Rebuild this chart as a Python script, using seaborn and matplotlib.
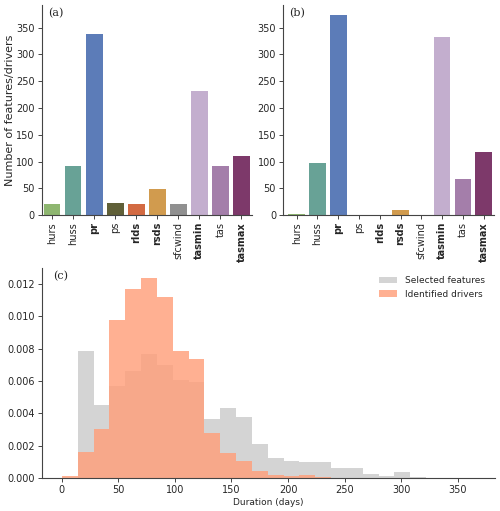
import numpy as np
import pandas as pd
import seaborn as sns
import matplotlib.pyplot as plt

# variables and counts
variables = ["hurs", "huss", "pr", "ps", "rlds", "rsds", "sfcwind", "tasmin", "tas", "tasmax"]
bold_vars = ["pr", "rlds", "rsds", "tasmin", "tasmax"]
features_count = [20, 91, 338, 23, 21, 49, 21, 231, 91, 110]
drivers_count = [3, 97, 373, 0, 0, 9, 0, 332, 68, 118]
var_colors = ["#8eb670", "#68a296", "#5c7cb8", "#606038", "#d36a42",
              "#d19b4e", "#909090", "#c3aece", "#a47eaa", "#7d396a"]

# duration histograms (density per 14-day bin)
bin_edges = list(range(0, 323, 14))
features_density = [0.0, 0.00788, 0.00454, 0.00567, 0.00664, 0.00769, 0.00699, 0.00604,
                    0.00592, 0.00367, 0.00433, 0.00375, 0.0021, 0.00122, 0.00107, 0.00101,
                    0.00101, 0.00064, 0.00064, 0.00023, 0.00014, 0.00039, 0.00008]
drivers_density = [0.00014, 0.00159, 0.00305, 0.00979, 0.01171, 0.01237, 0.01122, 0.00788,
                   0.00738, 0.0028, 0.00153, 0.00107, 0.00043, 0.00021, 0.0001, 0.00021,
                   0.00008, 0.0, 0.0, 0.0, 0.0, 0.0, 0.0]

sns.set_style("ticks")
plt.rcParams["font.family"] = ["DejaVu Sans"]

fig = plt.figure(figsize=(5, 5.11), dpi=100)
ax_a = fig.add_axes([0.083, 0.579, 0.421, 0.411])
ax_b = fig.add_axes([0.566, 0.579, 0.422, 0.411])
ax_c = fig.add_axes([0.083, 0.0646, 0.907, 0.411])

bars = pd.DataFrame({"var": variables, "features": features_count, "drivers": drivers_count})

for ax, col, lab, left in [(ax_a, "features", "(a)", -0.5), (ax_b, "drivers", "(b)", -0.66)]:
    sns.barplot(data=bars, x="var", y=col, hue="var", palette=var_colors, legend=False,
                saturation=1, width=0.8, linewidth=0, ax=ax)
    ax.set_ylim(0, 392)
    ax.set_xlim(left, 9.5)
    ax.set_xlabel("")
    ax.set_ylabel("")
    ax.tick_params(axis="x", labelrotation=90, labelsize=7, length=3, width=0.6, pad=2)
    ax.tick_params(axis="y", labelsize=7, length=3, width=0.6, pad=2)
    for t in ax.get_xticklabels():
        if t.get_text() in bold_vars:
            t.set_fontweight("bold")
    ax.text(0.03, 0.985, lab, transform=ax.transAxes, ha="left", va="top",
            fontsize=8, family="DejaVu Serif")
    sns.despine(ax=ax)

ax_a.set_ylabel("Number of features/drivers", fontsize=8, labelpad=1)

centers = [e + 7 for e in bin_edges[:-1]]
hist = pd.DataFrame({"dur": centers, "features": features_density, "drivers": drivers_density})
sns.histplot(data=hist, x="dur", weights="features", bins=bin_edges, stat="count",
             color="#d4d4d4", alpha=1, linewidth=0, label="Selected features", ax=ax_c)
sns.histplot(data=hist, x="dur", weights="drivers", bins=bin_edges, stat="count",
             color="#ff9f7a", alpha=0.82, linewidth=0, label="Identified drivers", ax=ax_c)
ax_c.set_xlim(-18, 383)
ax_c.set_ylim(0, 0.013)
ax_c.set_yticks([0, 0.002, 0.004, 0.006, 0.008, 0.010, 0.012])
ax_c.set_yticklabels([f"{v:.3f}" for v in [0, 0.002, 0.004, 0.006, 0.008, 0.010, 0.012]])
ax_c.set_ylabel("")
ax_c.set_xlabel("Duration (days)", fontsize=6.5, labelpad=2)
ax_c.tick_params(labelsize=7, length=3, width=0.6, pad=2)
ax_c.legend(frameon=False, fontsize=6.5, loc="upper right", handlelength=2.0,
            bbox_to_anchor=(0.995, 1.0))
ax_c.text(0.025, 0.985, "(c)", transform=ax_c.transAxes, ha="left", va="top",
          fontsize=8, family="DejaVu Serif")
sns.despine(ax=ax_c)

for ax in [ax_a, ax_b, ax_c]:
    for s in ax.spines.values():
        s.set_linewidth(0.8)
        s.set_color("#444444")

fig.savefig("out.png", dpi=100)
